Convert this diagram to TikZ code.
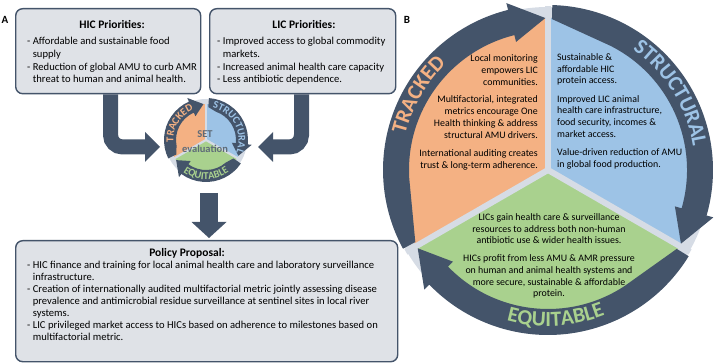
\documentclass[tikz,border=0pt]{standalone}
\usepackage{fontspec}
\setmainfont{Carlito}
\usetikzlibrary{decorations.text,calc}
\definecolor{ringdark}{HTML}{44546A}
\definecolor{orangeC}{HTML}{F4B183}
\definecolor{blueC}{HTML}{9DC3E6}
\definecolor{greenC}{HTML}{A9D18E}
\definecolor{discC}{HTML}{D6DCE5}
\definecolor{boxfill}{HTML}{DFE2E7}
\definecolor{setgrey}{HTML}{5F6B78}
% #1 tail angle, #2 tip angle, #3 r out, #4 r in, #5 r in at tail, #6 taper angle, #7 head length, #8 barb extension
\newcommand{\RingArrow}[8]{%
  \pgfmathsetmacro{\RAb}{#2+#7}%
  \pgfmathsetmacro{\RAt}{#1-#6}%
  \pgfmathsetmacro{\RAm}{(#3+#4)/2}%
  \pgfmathsetmacro{\RAo}{#3+#8}%
  \pgfmathsetmacro{\RAi}{#4-#8}%
  \fill[ringdark] (#1:#3) arc[start angle=#1, end angle=\RAb, radius=#3]
    -- (\RAb:\RAo) -- (#2:\RAm) -- (\RAb:\RAi) -- (\RAb:#4)
    arc[start angle=\RAb, end angle=\RAt, radius=#4] -- (#1:#5) -- cycle;
}
\newcommand{\bigringfont}{\fontsize{21.5}{21.5}\selectfont\bfseries}
\newcommand{\smallringfont}{\fontsize{10.5}{10.5}\selectfont\bfseries}
\begin{document}
\begin{tikzpicture}[x=1pt,y=1pt,
  box/.style={draw=ringdark, line width=1.4pt, fill=boxfill, rounded corners=7pt, inner sep=0pt, anchor=north west},
  titletext/.style={font=\fontsize{11.5}{14}\selectfont\bfseries, inner sep=0pt},
  bodytext/.style={font=\fontsize{10.6}{12.6}\selectfont, align=left, inner sep=0pt, anchor=north west},
  btext/.style={font=\fontsize{9.9}{11.7}\selectfont, inner sep=0pt},
  blockarrow/.style={draw=ringdark, line width=15pt},
  panellabel/.style={font=\fontsize{11}{12}\selectfont\bfseries, inner sep=0pt},
  gapline/.style={draw=discC},
]
\useasboundingbox (0,0) rectangle (715,-363);

% ---------- Panel A ----------
\node[panellabel] (labA) at (5,-20) {A};

\node[box, minimum width=185pt, minimum height=85pt] (hic) at (15,-8) {};
\node[box, minimum width=186pt, minimum height=85pt] (lic) at (209,-8) {};
\node[box, minimum width=382pt, minimum height=121pt] (pol) at (15,-240) {};

\node[titletext] (hict) at (112,-25) {HIC Priorities:};
\node[bodytext] (hicb) at (27,-37.3) {- Affordable and sustainable food\\\hphantom{- }supply\\- Reduction of global AMU to curb AMR\\\hphantom{- }threat to human and animal health.};

\node[titletext] (lict) at (304,-25) {LIC Priorities:};
\node[bodytext] (licb) at (217,-37.3) {- Improved access to global commodity\\\hphantom{- }markets.\\- Increased animal health care capacity\\- Less antibiotic dependence.};

\node[titletext] (polt) at (187,-253) {Policy Proposal:};
\node[bodytext, font=\fontsize{10.6}{12}\selectfont] (polb) at (27,-261.3) {- HIC finance and training for local animal health care and laboratory surveillance\\\hphantom{- }infrastructure.\\- Creation of internationally audited multifactorial metric jointly assessing disease\\\hphantom{- }prevalence and antimicrobial residue surveillance at sentinel sites in local river\\\hphantom{- }systems.\\- LIC privileged market access to HICs based on adherence to milestones based on\\\hphantom{- }multifactorial metric.};

% block arrows
\coordinate (lx) at (110.5,0);
\coordinate (lbase) at (145,-147);
\coordinate (ltip) at (160,-147);
\draw[blockarrow, rounded corners=12pt] (hic.south -| lx) |- ($(lbase)+(1,0)$);
\fill[ringdark] ($(lbase)+(0,15)$) -- (ltip) -- ($(lbase)+(0,-15)$) -- cycle;

\coordinate (rx) at (301.5,0);
\coordinate (rbase) at (273,-147);
\coordinate (rtip) at (258,-147);
\draw[blockarrow, rounded corners=12pt] (lic.south -| rx) |- ($(rbase)+(-1,0)$);
\fill[ringdark] ($(rbase)+(0,15)$) -- (rtip) -- ($(rbase)+(0,-15)$) -- cycle;

\coordinate (dtop) at (209,-193);
\coordinate (dbase) at (209,-222);
\coordinate (dtip) at (209,-238);
\draw[ringdark, line width=18pt] (dtop) -- ($(dbase)+(0,-1)$);
\fill[ringdark] ($(dbase)+(-17.5,0)$) -- (dtip) -- ($(dbase)+(17.5,0)$) -- cycle;

% small SET wheel
\begin{scope}[shift={(206,-140)}]
  \fill[discC] (0,0) circle[radius=41];
  \fill[orangeC] (0,0) -- (90:36) arc[start angle=90, end angle=210, radius=36] -- cycle;
  \fill[blueC] (0,0) -- (-30:36) arc[start angle=-30, end angle=90, radius=36] -- cycle;
  \fill[greenC] (0,0) -- (210:36) arc[start angle=210, end angle=330, radius=36] -- cycle;
  \foreach \a in {90,210,330} \draw[gapline, line width=2.2pt] (0,0) -- (\a:40);
  \RingArrow{206}{94}{42}{30}{33}{15}{20}{4}
  \RingArrow{86}{-26}{42}{30}{33}{15}{20}{4}
  \RingArrow{-34}{-146}{42}{30}{33}{15}{20}{4}
  \path[decorate, decoration={text along path, text align=center, text color=orangeC, text={|\smallringfont|TRACKED}}]
    (228:32.6) arc[start angle=228, end angle=68, radius=32.6];
  \path[decorate, decoration={text along path, text align=center, text color=blueC, text={|\smallringfont|STRUCTURAL}}]
    (108:32.6) arc[start angle=108, end angle=-52, radius=32.6];
  \path[decorate, decoration={text along path, text align=center, text color=greenC, text={|\smallringfont|EQUITABLE}}]
    (190:39.4) arc[start angle=190, end angle=350, radius=39.4];
\end{scope}
\node[font=\fontsize{10.5}{15}\selectfont\bfseries, text=setgrey, align=center, inner sep=0pt] (set) at (205,-142) {SET\\evaluation};

% ---------- Panel B ----------
\node[panellabel] (labB) at (407,-20) {B};
\begin{scope}[shift={(548,-170)}]
  \fill[discC] (0,0) circle[radius=163];
  \fill[orangeC] (0,0) -- (90:152) arc[start angle=90, end angle=210, radius=152] -- cycle;
  \fill[blueC] (0,0) -- (-30:152) arc[start angle=-30, end angle=90, radius=152] -- cycle;
  \fill[greenC] (0,0) -- (210:152) arc[start angle=210, end angle=330, radius=152] -- cycle;
  \foreach \a in {90,210,330} \draw[gapline, line width=6pt] (0,0) -- (\a:164);
  \RingArrow{208.5}{91}{165}{139}{151}{25}{13}{7}
  \RingArrow{88.5}{-29}{165}{139}{151}{25}{13}{7}
  \RingArrow{-31.5}{-149}{165}{139}{151}{25}{13}{7}
  \path[decorate, decoration={text along path, text align=center, text color=orangeC, text={|\bigringfont|TRACKED}}]
    (200:147) arc[start angle=200, end angle=100, radius=147];
  \path[decorate, decoration={text along path, text align=center, text color=blueC, text={|\bigringfont|STRUCTURAL}}]
    (82:147) arc[start angle=82, end angle=-18, radius=147];
  \path[decorate, decoration={text along path, text align=center, text color=greenC, text={|\bigringfont|EQUITABLE}}]
    (223:156) arc[start angle=223, end angle=323, radius=156];
\end{scope}

\node[btext, align=right, anchor=north east] (trk) at (538,-54.8) {Local monitoring\\empowers LIC\\communities.\\[6pt]Multifactorial, integrated\\metrics encourage One\\Health thinking \& address\\structural AMU drivers.\\[6.8pt]International auditing creates\\trust \& long-term adherence.};
\node[btext, align=left, anchor=north west] (str) at (557,-53.3) {Sustainable \&\\affordable HIC\\protein access.\\[6.6pt]Improved LIC animal\\health care infrastructure,\\food security, incomes \&\\market access.\\[6.6pt]Value-driven reduction of AMU\\in global food production.};
\node[btext, align=center, anchor=north] (eqt) at (549,-213.3) {LICs gain health care \& surveillance\\resources to address both non-human\\antibiotic use \& wider health issues.\\[6.4pt]HICs profit from less AMU \& AMR pressure\\on human and animal health systems and\\more secure, sustainable \& affordable\\protein.};
\end{tikzpicture}
\end{document}
